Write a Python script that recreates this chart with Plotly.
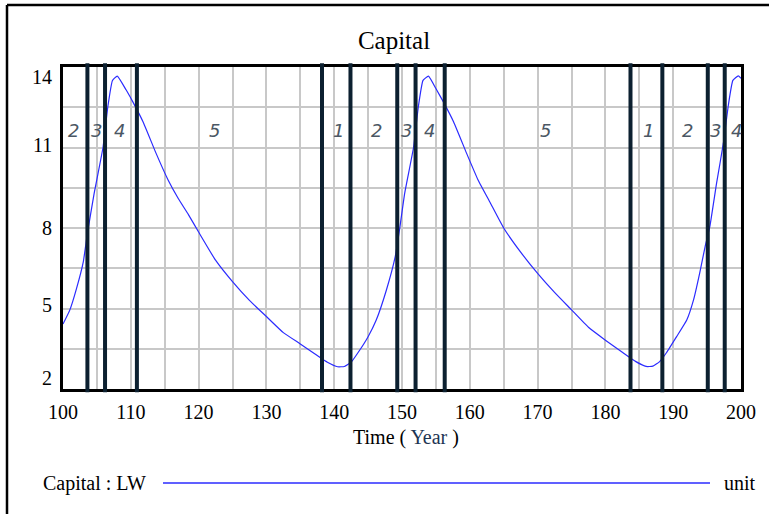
import plotly.graph_objects as go

# ---- data ----
time_years = [100, 101, 102, 103, 103.6, 104.6, 105.9, 106.6, 107.3, 108.0, 109.3, 110.3, 111.8,
              113.7, 115.5, 117, 118.5, 120, 122.5, 125, 127.5, 130, 132.5, 135, 137.5, 139, 140.5,
              141.5, 142.5, 143.5, 145, 146.2, 147.7, 149.0, 149.7, 150.4, 151.7, 152.4, 153.1,
              153.9, 155.1, 156.1, 157.6, 159.5, 161.2, 163, 165, 167.5, 170, 172.5, 175, 177.5,
              180, 182.5, 184.5, 186, 187, 188, 189, 190.5, 192, 193, 193.9, 194.7, 195.4, 196.4,
              197.4, 198.1, 198.8, 199.6, 200]
capital_lw = [4.42, 4.94, 5.75, 6.75, 7.8, 9.3, 11.0, 12.5, 13.5, 13.66, 13.15, 12.7, 11.96,
              10.8, 9.79, 9.1, 8.5, 7.85, 6.8, 6.0, 5.3, 4.7, 4.1, 3.68, 3.25, 3.0, 2.83,
              2.84, 3.0, 3.35, 3.95, 4.57, 5.69, 6.93, 8.05, 9.3, 11.0, 12.5, 13.5,
              13.66, 13.15, 12.7, 11.96, 10.8, 9.8, 8.95, 8.0, 7.1, 6.31, 5.6, 4.95, 4.3,
              3.82, 3.37, 3.02, 2.84, 2.85, 3.02, 3.35, 3.95, 4.57, 5.32, 6.31, 7.3, 8.05, 9.67,
              11.16, 12.52, 13.5, 13.67, 13.58]

phase_boundaries = [103.6, 106.2, 110.9, 138.2, 142.4, 149.3, 152.0, 156.3, 183.7, 188.4, 195.1, 197.6]
phase_label_text = ["2", "3", "4", "5", "1", "2", "3", "4", "5", "1", "2", "3", "4"]
phase_label_x = [101.6, 105.0, 108.4, 122.3, 140.7, 146.2, 150.7, 154.0, 171.1, 186.3, 192.1, 196.3, 199.3]
phase_label_y = 11.63

x_tick_labels = ["100", "110", "120", "130", "140", "150", "160", "170", "180", "190", "200"]
y_tick_labels = ["2", "5", "8", "11", "14"]

# ---- figure ----
fig = go.Figure()
fig.add_trace(go.Scatter(x=time_years, y=capital_lw, mode="lines",
                         line=dict(color="#2b2bff", width=1.2, shape="spline", smoothing=0.4),
                         showlegend=False, hoverinfo="x+y"))

serif = "Liberation Serif"

x_grid = [100 + 5 * i for i in range(21)]
x_text = [x_tick_labels[i // 2] if i % 2 == 0 else "" for i in range(21)]
y_grid = [2 + 1.5 * i for i in range(9)]

fig.update_layout(
    width=769, height=514,
    margin=dict(l=63, r=28, t=67, b=125),
    paper_bgcolor="white", plot_bgcolor="white",
    title=dict(text="Capital", x=394 / 769, xanchor="center", y=1 - 40 / 514, yanchor="middle",
               font=dict(family=serif, size=25, color="black")),
    xaxis=dict(range=[100, 200], tickvals=x_grid, ticktext=x_text,
               showgrid=True, gridcolor="#c8c8c8", gridwidth=1.5,
               showline=True, linecolor="black", linewidth=2.5, mirror=True,
               ticks="", ticklabelstandoff=3,
               tickfont=dict(family=serif, size=20, color="black"),
               zeroline=False, fixedrange=True),
    yaxis=dict(range=[2, 14], tickvals=y_grid, ticktext=[""] * 9,
               showgrid=True, gridcolor="#c8c8c8", gridwidth=1.5,
               showline=True, linecolor="black", linewidth=2.5, mirror=True,
               ticks="", zeroline=False, fixedrange=True),
)

# y tick labels (Vensim style: end labels pulled inside)
y_label_vals = [2, 5, 8, 11, 14]
y_shift = {2: 11, 5: 4, 8: 0, 11: 3, 14: -10}
for txt, v in zip(y_tick_labels, y_label_vals):
    fig.add_annotation(x=0, xref="paper", xanchor="right", xshift=-9,
                       y=v, yref="y", yanchor="middle", yshift=y_shift[v],
                       text=txt, showarrow=False,
                       font=dict(family=serif, size=20, color="black"))

# phase boundary lines
for b in phase_boundaries:
    fig.add_shape(type="line", x0=b, x1=b, xref="x", y0=-0.01, y1=1.012, yref="paper",
                  line=dict(color="#0c2030", width=4), layer="above")

# phase labels
for t, xv in zip(phase_label_text, phase_label_x):
    fig.add_annotation(x=xv, y=phase_label_y, xref="x", yref="y", text="<i>" + t + "</i>",
                       showarrow=False,
                       font=dict(family="DejaVu Sans", size=18, color="#4b5764"))

# axis title
fig.add_annotation(x=(406 - 63) / 678, xref="paper", y=(389 - 437) / 322, yref="paper",
                   text='Time ( <span style="color:#1d3553">Year</span> )', showarrow=False,
                   xanchor="center", yanchor="middle",
                   font=dict(family=serif, size=20, color="black"))

# legend row
leg_y = (389 - 483) / 322
fig.add_annotation(x=(41 - 63) / 678, xref="paper", y=leg_y, yref="paper",
                   text="Capital : LW", showarrow=False, xanchor="left", yanchor="middle",
                   font=dict(family=serif, size=20, color="black"))
fig.add_shape(type="line", xref="paper", yref="paper",
              x0=(163 - 63) / 678, x1=(710 - 63) / 678, y0=leg_y, y1=leg_y,
              line=dict(color="#2b2bff", width=1.5))
fig.add_annotation(x=(722 - 63) / 678, xref="paper", y=leg_y, yref="paper",
                   text="unit", showarrow=False, xanchor="left", yanchor="middle",
                   font=dict(family=serif, size=20, color="black"))

# outer frame (top and left edges)
top_y = (389 - 5) / 322
left_x = (7 - 63) / 678
fig.add_shape(type="line", xref="paper", yref="paper", x0=left_x, x1=(769 - 63) / 678,
              y0=top_y, y1=top_y, line=dict(color="black", width=2.5))
fig.add_shape(type="line", xref="paper", yref="paper", x0=left_x, x1=left_x,
              y0=top_y, y1=(389 - 520) / 322, line=dict(color="black", width=2.5))

fig.write_html("out.html", config={"displayModeBar": False},
               post_script="document.body.style.margin='0';")
